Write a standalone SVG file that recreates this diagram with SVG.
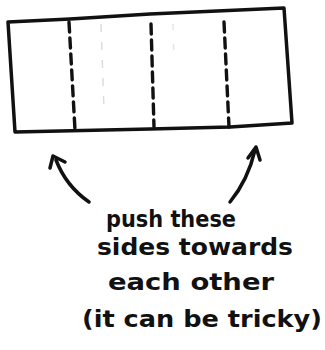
<svg xmlns="http://www.w3.org/2000/svg" width="325" height="350" viewBox="0 0 325 350">
<style>
.ink{fill:none;stroke:#111;stroke-linecap:round;stroke-linejoin:round}
.edge{stroke-width:3.5}
.dash{stroke-width:3.4;stroke-dasharray:10 6}
.hand{font-family:"DejaVu Sans","Liberation Sans",sans-serif;font-weight:bold;font-size:23px;fill:#111}
</style>
<rect width="325" height="350" fill="#fff"/>
<g id="strip">
<path class="ink edge" d="M8,22 L70,19 L150,14 L284,8 L292,123 L230,127 L150,129 L15,132 Z"/>
</g>
<g id="folds">
<path class="ink dash" d="M69,22 L75,130"/>
<path class="ink dash" d="M151,24 L154,127"/>
<path class="ink dash" d="M224,22 L229,127"/>
<path fill="none" stroke="#ddd" stroke-width="1.5" stroke-dasharray="8 10" d="M101,24 L104,110"/>
<path fill="none" stroke="#e6e6e6" stroke-width="1.5" stroke-dasharray="6 14" d="M173,24 L174,60"/>
</g>
<g id="connectors">
<path class="ink edge" d="M89,202 Q66,186 56,160"/>
<path class="ink edge" d="M53,156 L50,168 M53,156 L65,162"/>
<path class="ink edge" d="M230,202 Q248,180 255,150"/>
<path class="ink edge" d="M256,147 L248,158 M256,147 L260,160"/>
</g>
<g id="label">
<text class="hand" x="106" y="227" textLength="130" lengthAdjust="spacingAndGlyphs">push these</text>
<text class="hand" x="97" y="255" textLength="196" lengthAdjust="spacingAndGlyphs">sides towards</text>
<text class="hand" x="108" y="290" textLength="166" lengthAdjust="spacingAndGlyphs">each other</text>
<text class="hand" x="82" y="327" textLength="240" lengthAdjust="spacingAndGlyphs">(it can be tricky)</text>
</g>
</svg>
